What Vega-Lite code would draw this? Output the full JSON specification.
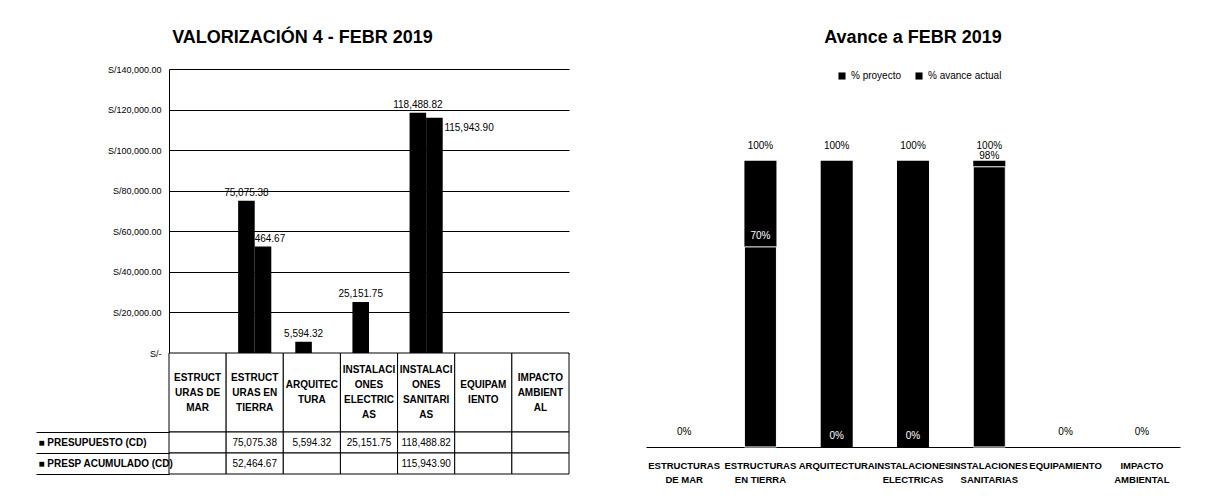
{
  "$schema": "https://vega.github.io/schema/vega-lite/v6.json",
  "padding": {"left": 35, "top": 29, "right": 5, "bottom": 5},
  "background": "#ffffff",
  "config": {
    "view": {"stroke": null},
    "font": "Liberation Sans, Arial, sans-serif",
    "title": {"fontSize": 18, "fontWeight": "bold", "color": "#000000", "anchor": "middle", "font": "Liberation Sans, Arial, sans-serif"},
    "text": {"color": "#000000"},
    "axis": {"labelColor": "#000000", "domainColor": "#000000"}
  },
  "resolve": {"scale": {"color": "independent"}, "legend": {"color": "independent"}},
  "datasets": {
    "valorizacion": [
      {"categoria": "ESTRUCTURAS DE MAR", "serie": "PRESUPUESTO (CD)", "valor": null},
      {"categoria": "ESTRUCTURAS EN TIERRA", "serie": "PRESUPUESTO (CD)", "valor": 75075.38},
      {"categoria": "ARQUITECTURA", "serie": "PRESUPUESTO (CD)", "valor": 5594.32},
      {"categoria": "INSTALACIONES ELECTRICAS", "serie": "PRESUPUESTO (CD)", "valor": 25151.75},
      {"categoria": "INSTALACIONES SANITARIAS", "serie": "PRESUPUESTO (CD)", "valor": 118488.82},
      {"categoria": "EQUIPAMIENTO", "serie": "PRESUPUESTO (CD)", "valor": null},
      {"categoria": "IMPACTO AMBIENTAL", "serie": "PRESUPUESTO (CD)", "valor": null},
      {"categoria": "ESTRUCTURAS DE MAR", "serie": "PRESP ACUMULADO (CD)", "valor": null},
      {"categoria": "ESTRUCTURAS EN TIERRA", "serie": "PRESP ACUMULADO (CD)", "valor": 52464.67},
      {"categoria": "ARQUITECTURA", "serie": "PRESP ACUMULADO (CD)", "valor": null},
      {"categoria": "INSTALACIONES ELECTRICAS", "serie": "PRESP ACUMULADO (CD)", "valor": null},
      {"categoria": "INSTALACIONES SANITARIAS", "serie": "PRESP ACUMULADO (CD)", "valor": 115943.90},
      {"categoria": "EQUIPAMIENTO", "serie": "PRESP ACUMULADO (CD)", "valor": null},
      {"categoria": "IMPACTO AMBIENTAL", "serie": "PRESP ACUMULADO (CD)", "valor": null}
    ],
    "categorias": [
      {"categoria": "ESTRUCTURAS DE MAR", "encabezado": "ESTRUCT\nURAS DE\nMAR"},
      {"categoria": "ESTRUCTURAS EN TIERRA", "encabezado": "ESTRUCT\nURAS EN\nTIERRA"},
      {"categoria": "ARQUITECTURA", "encabezado": "ARQUITEC\nTURA"},
      {"categoria": "INSTALACIONES ELECTRICAS", "encabezado": "INSTALACI\nONES\nELECTRIC\nAS"},
      {"categoria": "INSTALACIONES SANITARIAS", "encabezado": "INSTALACI\nONES\nSANITARI\nAS"},
      {"categoria": "EQUIPAMIENTO", "encabezado": "EQUIPAM\nIENTO"},
      {"categoria": "IMPACTO AMBIENTAL", "encabezado": "IMPACTO\nAMBIENT\nAL"}
    ],
    "avance": [
      {"categoria": "ESTRUCTURAS DE MAR", "serie": "% proyecto", "valor": 0},
      {"categoria": "ESTRUCTURAS EN TIERRA", "serie": "% proyecto", "valor": 1},
      {"categoria": "ARQUITECTURA", "serie": "% proyecto", "valor": 1},
      {"categoria": "INSTALACIONES ELECTRICAS", "serie": "% proyecto", "valor": 1},
      {"categoria": "INSTALACIONES SANITARIAS", "serie": "% proyecto", "valor": 1},
      {"categoria": "EQUIPAMIENTO", "serie": "% proyecto", "valor": 0},
      {"categoria": "IMPACTO AMBIENTAL", "serie": "% proyecto", "valor": 0},
      {"categoria": "ESTRUCTURAS DE MAR", "serie": "% avance actual", "valor": 0},
      {"categoria": "ESTRUCTURAS EN TIERRA", "serie": "% avance actual", "valor": 0.6988},
      {"categoria": "ARQUITECTURA", "serie": "% avance actual", "valor": 0},
      {"categoria": "INSTALACIONES ELECTRICAS", "serie": "% avance actual", "valor": 0},
      {"categoria": "INSTALACIONES SANITARIAS", "serie": "% avance actual", "valor": 0.9785},
      {"categoria": "EQUIPAMIENTO", "serie": "% avance actual", "valor": 0},
      {"categoria": "IMPACTO AMBIENTAL", "serie": "% avance actual", "valor": 0}
    ]
  },
  "spacing": 76,
  "hconcat": [
    {
      "title": {"text": "VALORIZACIÓN 4 - FEBR 2019", "offset": 18},
      "spacing": 0,
      "bounds": "flush",
      "vconcat": [
        {
          "width": 400,
          "height": 284,
          "data": {"name": "valorizacion"},
          "transform": [{"filter": "isValid(datum.valor)"}],
          "encoding": {
            "x": {"field": "categoria", "type": "nominal", "scale": {"domain": ["ESTRUCTURAS DE MAR", "ESTRUCTURAS EN TIERRA", "ARQUITECTURA", "INSTALACIONES ELECTRICAS", "INSTALACIONES SANITARIAS", "EQUIPAMIENTO", "IMPACTO AMBIENTAL"], "paddingInner": 0.42, "paddingOuter": 0.21}, "axis": null},
            "xOffset": {"field": "serie", "type": "nominal", "scale": {"domain": ["PRESUPUESTO (CD)", "PRESP ACUMULADO (CD)"]}},
            "y": {"field": "valor", "type": "quantitative", "scale": {"domain": [0, 140000], "nice": false},
              "axis": {"title": null, "values": [0, 20000, 40000, 60000, 80000, 100000, 120000, 140000], "labelExpr": "datum.value === 0 ? 'S/-' : 'S/' + format(datum.value, ',.2f')", "ticks": false, "labelPadding": 8, "labelFontSize": 9, "grid": true, "gridColor": "#000000", "gridOpacity": 1, "gridWidth": 1}}
          },
          "layer": [
            {"mark": {"type": "bar", "color": "#000000"}},
            {"transform": [{"filter": "datum.categoria !== 'INSTALACIONES SANITARIAS' || datum.serie === 'PRESUPUESTO (CD)'"}],
              "mark": {"type": "text", "baseline": "bottom", "dy": -3, "fontSize": 10},
              "encoding": {"text": {"field": "valor", "type": "quantitative", "format": ",.2f"}}},
            {"transform": [{"filter": "datum.categoria === 'INSTALACIONES SANITARIAS' && datum.serie === 'PRESP ACUMULADO (CD)'"}],
              "mark": {"type": "text", "align": "left", "baseline": "middle", "dx": 10, "dy": 10, "fontSize": 10},
              "encoding": {"text": {"field": "valor", "type": "quantitative", "format": ",.2f"}}}
          ]
        },
        {
          "width": 400,
          "height": 79,
          "data": {"name": "categorias"},
          "encoding": {
            "x": {"field": "categoria", "type": "nominal", "scale": {"domain": ["ESTRUCTURAS DE MAR", "ESTRUCTURAS EN TIERRA", "ARQUITECTURA", "INSTALACIONES ELECTRICAS", "INSTALACIONES SANITARIAS", "EQUIPAMIENTO", "IMPACTO AMBIENTAL"], "paddingInner": 0, "paddingOuter": 0}, "axis": null}
          },
          "layer": [
            {"mark": {"type": "rect", "fill": "#ffffff", "stroke": "#000000", "strokeWidth": 1}},
            {"transform": [{"filter": "length(split(datum.encabezado, '\\n')) === 2"}],
              "mark": {"type": "text", "lineBreak": "\n", "fontSize": 10, "fontWeight": "bold", "lineHeight": 15, "baseline": "middle", "dy": -7.5},
              "encoding": {"text": {"field": "encabezado", "type": "nominal"}}},
            {"transform": [{"filter": "length(split(datum.encabezado, '\\n')) === 3"}],
              "mark": {"type": "text", "lineBreak": "\n", "fontSize": 10, "fontWeight": "bold", "lineHeight": 15, "baseline": "middle", "dy": -15},
              "encoding": {"text": {"field": "encabezado", "type": "nominal"}}},
            {"transform": [{"filter": "length(split(datum.encabezado, '\\n')) === 4"}],
              "mark": {"type": "text", "lineBreak": "\n", "fontSize": 10, "fontWeight": "bold", "lineHeight": 15, "baseline": "middle", "dy": -22.5},
              "encoding": {"text": {"field": "encabezado", "type": "nominal"}}}
          ]
        },
        {
          "width": 400,
          "height": 42,
          "data": {"name": "valorizacion"},
          "encoding": {
            "x": {"field": "categoria", "type": "nominal", "scale": {"domain": ["ESTRUCTURAS DE MAR", "ESTRUCTURAS EN TIERRA", "ARQUITECTURA", "INSTALACIONES ELECTRICAS", "INSTALACIONES SANITARIAS", "EQUIPAMIENTO", "IMPACTO AMBIENTAL"], "paddingInner": 0, "paddingOuter": 0}, "axis": null},
            "y": {"field": "serie", "type": "nominal", "scale": {"domain": ["PRESUPUESTO (CD)", "PRESP ACUMULADO (CD)"], "paddingInner": 0, "paddingOuter": 0},
              "axis": {"title": null, "labelExpr": "datum.label ? '■ ' + datum.label : ''", "tickBand": "extent", "tickSize": 133, "tickColor": "#000000", "domain": false, "labelAlign": "left", "labelPadding": -2, "labelFontSize": 10, "labelFontWeight": "bold"}}
          },
          "layer": [
            {"mark": {"type": "rect", "fill": "#ffffff", "stroke": "#000000", "strokeWidth": 1}},
            {"transform": [{"filter": "isValid(datum.valor)"}],
              "mark": {"type": "text", "fontSize": 10, "baseline": "middle"},
              "encoding": {"text": {"field": "valor", "type": "quantitative", "format": ",.2f"}}}
          ]
        }
      ]
    },
    {
      "title": {"text": "Avance a FEBR 2019", "offset": 22},
      "width": 534,
      "height": 378,
      "data": {"name": "avance"},
      "transform": [{"joinaggregate": [{"op": "max", "field": "valor", "as": "maximo"}], "groupby": ["categoria"]}],
      "encoding": {
        "x": {"field": "categoria", "type": "nominal", "scale": {"domain": ["ESTRUCTURAS DE MAR", "ESTRUCTURAS EN TIERRA", "ARQUITECTURA", "INSTALACIONES ELECTRICAS", "INSTALACIONES SANITARIAS", "EQUIPAMIENTO", "IMPACTO AMBIENTAL"], "paddingInner": 0.58, "paddingOuter": 0.29},
          "axis": {"title": null, "labelAngle": 0, "ticks": false, "labelPadding": 13, "labelFontSize": 9.5, "labelFontWeight": "bold", "labelLineHeight": 14,
            "labelExpr": "indexof(datum.label, ' ') > 0 ? [substring(datum.label, 0, indexof(datum.label, ' ')), substring(datum.label, indexof(datum.label, ' ') + 1)] : datum.label"}},
        "y": {"field": "valor", "type": "quantitative", "stack": null, "scale": {"domain": [0, 1.32], "nice": false}, "axis": null}
      },
      "layer": [
        {"mark": {"type": "bar", "strokeWidth": 1},
          "encoding": {
            "color": {"field": "serie", "type": "nominal", "scale": {"domain": ["% proyecto", "% avance actual"], "range": ["#000000", "#000000"]},
              "legend": {"title": null, "orient": "none", "legendX": 191, "legendY": 2, "direction": "horizontal", "symbolType": "square", "symbolSize": 50, "labelFontSize": 10, "columnPadding": 12, "labelColor": "#000000"}},
            "stroke": {"condition": {"test": "datum.serie === '% avance actual' && datum.valor > 0", "value": "#ffffff"}, "value": null}
          }},
        {"transform": [{"filter": "datum.serie === '% proyecto'"}],
          "mark": {"type": "text", "baseline": "bottom", "dy": -10, "fontSize": 10},
          "encoding": {"text": {"field": "valor", "type": "quantitative", "format": ".0%"}}},
        {"transform": [{"filter": "datum.serie === '% avance actual' && datum.maximo > 0"}],
          "mark": {"type": "text", "baseline": "bottom", "dy": -6, "fontSize": 10},
          "encoding": {
            "text": {"field": "valor", "type": "quantitative", "format": ".0%"},
            "color": {"condition": {"test": "datum.maximo - datum.valor > 0.05", "value": "#ffffff"}, "value": "#000000"}
          }}
      ]
    }
  ]
}
